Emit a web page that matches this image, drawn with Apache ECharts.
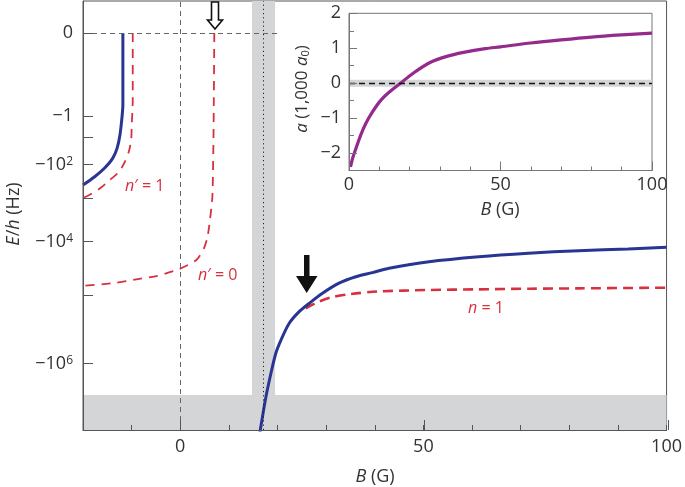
<!DOCTYPE html>
<html><head><meta charset="utf-8">
<script src="https://cdn.jsdelivr.net/npm/echarts@6/dist/echarts.min.js"></script>
<style>html,body{margin:0;padding:0;background:#fff}#c{width:685px;height:487px}</style>
</head><body><div id="c"></div>
<script>
// ---------- data (B in G, E/h in Hz, a in 1000 a0) ----------
const blueLeftB = [-11.8, -11.8, -12.0, -12.4, -13.0, -13.9, -15.6, -17.6, -20];
const blueLeftE = [0, -0.24, -1.3, -7.8, -27, -62, -132, -242, -424];
const redN1pB = [-9.77, -9.77, -9.98, -10.1, -10.6, -11.4, -12.6, -14.5, -16.4, -18.7, -20];
const redN1pE = [0, -0.12, -2.8, -12.7, -37, -82, -173, -304, -514, -804, -963];
const redN0pB = [7.0, 6.9, 6.8, 6.6, 6.1, 5.6, 4.9, 3.3, -0.2, -4.7, -8.4, -13.9, -20];
const redN0pE = [0, -0.12, -31, -907, -3400, -8000, -13600, -23400, -34500, -46000, -52000, -62000, -69000];
const blueMainB = [16.15, 16.46, 17.63, 18.66, 19.68, 20.71, 22.41, 24.45, 26.48, 29.25, 32.64, 36.1, 39.5, 42.94, 51.15, 61.4, 71.6, 81.9, 92.1, 100];
const blueMainE = [-8.0e6, -6.25e6, -2.6e6, -1.33e6, -7.2e5, -4.8e5, -2.74e5, -1.82e5, -1.35e5, -9.2e4, -6.2e4, -4.77e4, -4.03e4, -3.35e4, -2.52e4, -2.02e4, -1.73e4, -1.54e4, -1.42e4, -1.32e4];
const redN1B = [25.8, 28.3, 31.0, 35.0, 40.5, 51, 61, 72, 82, 100];
const redN1E = [-1.61e5, -1.28e5, -1.08e5, -9.5e4, -8.6e4, -8.1e4, -7.9e4, -7.7e4, -7.6e4, -7.4e4];

const insetB = [0.5, 1.2, 2.2, 3.8, 5.5, 7.7, 10.4, 13.2, 17, 21.4, 26.9, 32, 37.8, 45, 50, 60, 70, 80, 90, 100];
const insetA = [-2.4, -2.15, -1.89, -1.5, -1.16, -0.83, -0.5, -0.26, 0, 0.3, 0.6, 0.76, 0.88, 0.99, 1.04, 1.15, 1.24, 1.32, 1.38, 1.43];

// tick labels
const mainYTickE = [0, -1, -1e2, -1e4, -1e6];
const mainYTickLabels = ['0', '−1', '−10|2', '−10|4', '−10|6'];
const mainYMinorE = [-10, -1e3, -1e5];
const mainXLabels = [0, 50, 100];
const insetXLabels = [0, 50, 100];
const insetYLabels = [-2, -1, 0, 1, 2];

// shaded regions / reference lines
const bandB = [14.75, 19.5];
const bandE = -2.49e6;
const resonanceB = 17;
const zeroLineEndB = 20.3;
const insetBand = [-0.1, 0.1];

// ---------- scale transform (E -> sign*|E|^0.1) ----------
const P = 0.1;
function f(E) { return E === 0 ? 0 : Math.sign(E) * Math.pow(Math.abs(E), P); }
const yMax = 32 / 83, yMin = -397 / 83;
function pts(bs, es) { return bs.map((b, i) => [b, f(es[i])]); }

const BLUE = '#283593', RED = '#d7303f', PURPLE = '#952a8d', GREY = '#d4d5d7', AX = '#555', TXT = '#333';
const FONT = 'Open Sans';

const chart = echarts.init(document.getElementById('c'), null, { renderer: 'canvas' });

const yLabelVals = mainYTickE.map(f);
function yLabelFmt(v) {
  let best = 0, bd = 1e9;
  yLabelVals.forEach((x, i) => { const d = Math.abs(x - v); if (d < bd) { bd = d; best = i; } });
  const s = mainYTickLabels[best].split('|');
  return s.length > 1 ? '{b|' + s[0] + '}{s|' + s[1] + '}' : '{b|' + s[0] + '}';
}
const minusFmt = v => (v < 0 ? '−' + Math.abs(v) : '' + v);

const mainGrid = { left: 83, right: 17, top: 1, bottom: 57 };
const insetGrid = { left: 349, right: 33, top: 13.3, bottom: 316.5 };

const option = {
  animation: false,
  backgroundColor: '#fff',
  textStyle: { fontFamily: FONT },
  grid: [
    Object.assign({ show: true, borderColor: AX, borderWidth: 1, backgroundColor: 'transparent' }, mainGrid),
    Object.assign({ show: true, borderColor: '#777', borderWidth: 1, backgroundColor: 'transparent' }, insetGrid),
    Object.assign({ show: false }, mainGrid),
    Object.assign({ show: false }, insetGrid)
  ],
  xAxis: [
    { gridIndex: 0, type: 'value', min: -20, max: 100, interval: 10, position: 'bottom', z: 10,
      axisLine: { show: true, onZero: false, lineStyle: { color: AX } },
      axisTick: { show: true, inside: true, length: 5, lineStyle: { color: AX } },
      axisLabel: { customValues: mainXLabels, fontSize: 18, color: TXT, margin: 8, fontFamily: FONT, formatter: minusFmt },
      splitLine: { show: false } },
    { gridIndex: 2, type: 'value', min: -20, max: 100, position: 'bottom', z: 10,
      axisLine: { show: false, onZero: false }, axisTick: { show: true, inside: true, length: 10, customValues: mainXLabels, lineStyle: { color: AX } },
      axisLabel: { show: false }, splitLine: { show: false } },
    { gridIndex: 1, type: 'value', min: 0, max: 100, interval: 10, position: 'bottom', z: 10,
      axisLine: { show: true, onZero: false, lineStyle: { color: '#777' } },
      axisTick: { show: true, inside: true, length: 4, lineStyle: { color: '#777' } },
      axisLabel: { customValues: insetXLabels, fontSize: 18, color: TXT, margin: 5, fontFamily: FONT },
      splitLine: { show: false } },
    { gridIndex: 3, type: 'value', min: 0, max: 100, position: 'bottom', z: 10,
      axisLine: { show: false, onZero: false }, axisTick: { show: true, inside: true, length: 9, customValues: insetXLabels, lineStyle: { color: '#777' } },
      axisLabel: { show: false }, splitLine: { show: false } }
  ],
  yAxis: [
    { gridIndex: 0, type: 'value', min: yMin, max: yMax, position: 'left', z: 10,
      axisLine: { show: true, onZero: false, lineStyle: { color: AX } },
      axisTick: { show: true, inside: true, length: 10, customValues: mainYTickE.concat(mainYMinorE).map(f), lineStyle: { color: AX } },
      axisLabel: { customValues: yLabelVals, margin: 10, formatter: yLabelFmt,
        rich: { b: { fontSize: 18, color: TXT, fontFamily: FONT }, s: { fontSize: 12, color: TXT, fontFamily: FONT, padding: [0, 0, 6, 0] } } },
      splitLine: { show: false } },
    { gridIndex: 1, type: 'value', min: -2.5, max: 2, interval: 0.5, position: 'left', z: 10,
      axisLine: { show: true, onZero: false, lineStyle: { color: '#777' } },
      axisTick: { show: true, inside: true, length: 5, lineStyle: { color: '#777' } },
      axisLabel: { customValues: insetYLabels, fontSize: 18, color: TXT, margin: 8, fontFamily: FONT, formatter: minusFmt },
      splitLine: { show: false } },
    { gridIndex: 3, type: 'value', min: -2.5, max: 2, position: 'left', z: 10,
      axisLine: { show: false, onZero: false }, axisTick: { show: true, inside: true, length: 8, customValues: insetYLabels, lineStyle: { color: '#777' } },
      axisLabel: { show: false }, splitLine: { show: false } },
    { gridIndex: 2, type: 'value', min: yMin, max: yMax, show: false, axisLine: { onZero: false } }
  ],
  series: [
    { type: 'line', xAxisIndex: 0, yAxisIndex: 0, data: [], z: 1, silent: true,
      markArea: { silent: true, itemStyle: { color: GREY }, data: [
        [{ xAxis: bandB[0], yAxis: yMin }, { xAxis: bandB[1], yAxis: yMax }],
        [{ xAxis: -20, yAxis: yMin }, { xAxis: 100, yAxis: f(bandE) }]
      ] },
      markLine: { silent: true, symbol: 'none', label: { show: false }, data: [
        [{ coord: [0, yMin], lineStyle: { color: '#666', type: [5, 4], width: 1 } }, { coord: [0, yMax] }],
        [{ coord: [resonanceB, yMin], lineStyle: { color: '#222', type: [1.2, 3], width: 1 } }, { coord: [resonanceB, yMax] }],
        [{ coord: [-20, 0], lineStyle: { color: '#666', type: [5, 4], width: 1 } }, { coord: [zeroLineEndB, 0] }]
      ] } },
    { name: "n'=0", type: 'line', xAxisIndex: 0, yAxisIndex: 0, data: pts(redN0pB, redN0pE), smooth: 0.25, showSymbol: false, z: 3,
      lineStyle: { color: RED, width: 1.8, type: [9, 7] } },
    { name: "n'=1", type: 'line', xAxisIndex: 0, yAxisIndex: 0, data: pts(redN1pB, redN1pE), smooth: 0.25, showSymbol: false, z: 3,
      lineStyle: { color: RED, width: 1.8, type: [9, 7] } },
    { name: 'blueLeft', type: 'line', xAxisIndex: 0, yAxisIndex: 0, data: pts(blueLeftB, blueLeftE), smooth: 0.25, showSymbol: false, z: 4,
      lineStyle: { color: BLUE, width: 3 } },
    { name: 'n=1', type: 'line', xAxisIndex: 0, yAxisIndex: 0, data: pts(redN1B, redN1E), smooth: 0.3, showSymbol: false, z: 3,
      lineStyle: { color: RED, width: 2.6, type: [10, 6] } },
    { name: 'blueMain', type: 'line', xAxisIndex: 0, yAxisIndex: 0, data: pts(blueMainB, blueMainE), smooth: 0.3, showSymbol: false, z: 4,
      lineStyle: { color: BLUE, width: 3 } },
    { name: 'a', type: 'line', xAxisIndex: 2, yAxisIndex: 1, data: insetB.map((b, i) => [b, insetA[i]]), smooth: 0.3, showSymbol: false, z: 4,
      lineStyle: { color: PURPLE, width: 3.2 },
      markArea: { silent: true, itemStyle: { color: GREY }, data: [[{ yAxis: insetBand[0] }, { yAxis: insetBand[1] }]] },
      markLine: { silent: true, symbol: 'none', label: { show: false }, lineStyle: { color: '#111', type: [6, 4], width: 1.4 }, data: [{ yAxis: 0 }] } }
  ],
  graphic: [
    { type: 'text', x: 375, y: 477, style: { text: '{i|B} (G)', align: 'center', verticalAlign: 'middle',
        rich: { i: { fontStyle: 'italic', fontSize: 18, fill: TXT, fontFamily: FONT } }, fontSize: 18, fill: TXT, fontFamily: FONT } },
    { type: 'text', x: 14, y: 214, rotation: Math.PI / 2, style: { text: '{i|E}/{i|h} (Hz)', align: 'center', verticalAlign: 'middle',
        rich: { i: { fontStyle: 'italic', fontSize: 18, fill: TXT, fontFamily: FONT } }, fontSize: 18, fill: TXT, fontFamily: FONT } },
    { type: 'text', x: 500, y: 210, style: { text: '{i|B} (G)', align: 'center', verticalAlign: 'middle',
        rich: { i: { fontStyle: 'italic', fontSize: 18, fill: TXT, fontFamily: FONT } }, fontSize: 18, fill: TXT, fontFamily: FONT } },
    { type: 'text', x: 302, y: 89, rotation: Math.PI / 2, style: { text: '{i|a} (1,000 {i|a}{sub|0})', align: 'center', verticalAlign: 'middle',
        rich: { i: { fontStyle: 'italic', fontSize: 17, fill: TXT, fontFamily: FONT }, sub: { fontSize: 11, fill: TXT, fontFamily: FONT, padding: [7, 0, 0, 0] } },
        fontSize: 17, fill: TXT, fontFamily: FONT } },
    { type: 'text', x: 125, y: 186, style: { text: '{i|n}′ = 1', verticalAlign: 'middle',
        rich: { i: { fontStyle: 'italic', fontSize: 16, fill: RED, fontFamily: FONT } }, fontSize: 16, fill: RED, fontFamily: FONT } },
    { type: 'text', x: 198, y: 275, style: { text: '{i|n}′ = 0', verticalAlign: 'middle',
        rich: { i: { fontStyle: 'italic', fontSize: 16, fill: RED, fontFamily: FONT } }, fontSize: 16, fill: RED, fontFamily: FONT } },
    { type: 'text', x: 468, y: 308, style: { text: '{i|n} = 1', verticalAlign: 'middle',
        rich: { i: { fontStyle: 'italic', fontSize: 16, fill: RED, fontFamily: FONT } }, fontSize: 16, fill: RED, fontFamily: FONT } },
    { type: 'polygon', z: 10, shape: { points: [[211.5, 2], [218.5, 2], [218.5, 20], [222.5, 20], [215, 29], [207.5, 20], [211.5, 20]] },
      style: { fill: '#fff', stroke: '#111', lineWidth: 1.6 } },
    { type: 'polygon', z: 10, shape: { points: [[304, 255], [309.5, 255], [309.5, 276], [317.5, 276], [306.7, 293], [296, 276], [304, 276]] },
      style: { fill: '#111' } }
  ]
};
chart.setOption(option);
</script>
</body></html>
